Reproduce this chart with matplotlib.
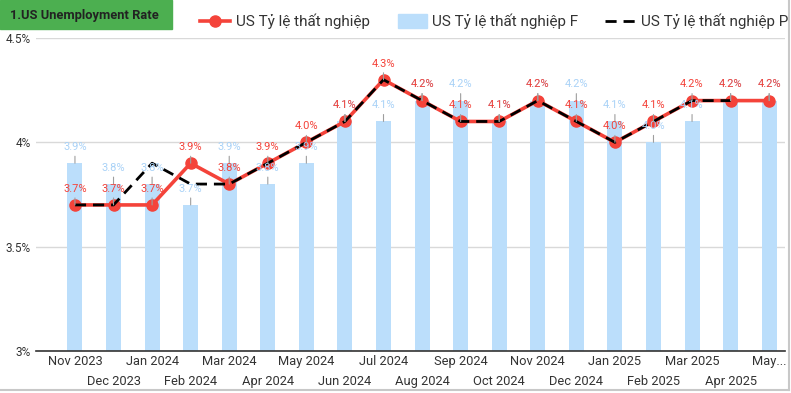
import matplotlib
matplotlib.use("Agg")
import matplotlib.pyplot as plt
import numpy as np
from matplotlib.lines import Line2D
from matplotlib.patches import Rectangle

plt.rcParams['font.family'] = ['Roboto', 'DejaVu Sans']

months = ["Nov 2023", "Dec 2023", "Jan 2024", "Feb 2024", "Mar 2024", "Apr 2024",
          "May 2024", "Jun 2024", "Jul 2024", "Aug 2024", "Sep 2024", "Oct 2024",
          "Nov 2024", "Dec 2024", "Jan 2025", "Feb 2025", "Mar 2025", "Apr 2025", "May..."]
actual = [3.7, 3.7, 3.7, 3.9, 3.8, 3.9, 4.0, 4.1, 4.3, 4.2, 4.1, 4.1, 4.2, 4.1, 4.0, 4.1, 4.2, 4.2, 4.2]
forecast = [3.9, 3.8, 3.8, 3.7, 3.9, 3.8, 3.9, 4.1, 4.1, 4.2, 4.2, 4.1, 4.2, 4.2, 4.1, 4.0, 4.1, 4.2, 4.2]
previous = [3.7, 3.7, 3.9, 3.8, 3.8, 3.9, 4.0, 4.1, 4.3, 4.2, 4.1, 4.1, 4.2, 4.1, 4.0, 4.1, 4.2, 4.2, np.nan]
yticks = [3.0, 3.5, 4.0, 4.5]
ytick_labels = ["3%", "3.5%", "4%", "4.5%"]
title = "1.US Unemployment Rate"
names = ["US Tỷ lệ thất nghiệp", "US Tỷ lệ thất nghiệp F", "US Tỷ lệ thất nghiệp P"]

RED = "#f4433a"
BLUE = "#bbdefb"
BLUE_TXT = "#a9d2f7"
GREEN = "#4caf50"

W, H = 791, 393
fig = plt.figure(figsize=(W / 100, H / 100), dpi=100)

def fx(px):
    return px / W

def fy(py):
    return 1 - py / H

L, R, T, B = 36, 785, 38, 351
ax = fig.add_axes([fx(L), fy(B), fx(R - L), (B - T) / H])
x = np.arange(len(months))

ax.bar(x, forecast, width=0.39, color=BLUE, zorder=2)
ax.plot(x, actual, color=RED, lw=2.6, marker='o', ms=8, zorder=4)
ax.plot(x, previous, color="black", lw=2.0, ls=(0, (4, 2.5)), zorder=5)

ax.set_ylim(3.0, 4.5)
ax.set_xlim(-1.01, 18.41)
ax.set_yticks(yticks)
ax.set_yticklabels(ytick_labels, fontsize=8.5, color="#333333")
ax.yaxis.grid(True, color="#d9d9d9", lw=1, zorder=0)
ax.set_axisbelow(True)
for s in ["top", "right", "left"]:
    ax.spines[s].set_visible(False)
ax.spines["bottom"].set_color("#333333")
ax.spines["bottom"].set_linewidth(1.2)
ax.spines["bottom"].set_zorder(6)
ax.tick_params(axis='y', length=0, pad=4)
ax.set_xticks(x[0::2])
ax.set_xticklabels(months[0::2], fontsize=9.3, color="#333333")
ax.set_xticks(x[1::2], minor=True)
ax.set_xticklabels(months[1::2], minor=True, fontsize=9.3, color="#333333")
ax.tick_params(axis='x', which='major', length=0, pad=3)
ax.tick_params(axis='x', which='minor', length=0, pad=17)

def label(i, v, color):
    ax.annotate(f"{v:.1f}%", xy=(i, v), xytext=(0, 8), textcoords="offset points",
                ha="center", va="bottom", fontsize=8, color=color, zorder=7,
                arrowprops=dict(arrowstyle='-', color="#9e9e9e", lw=0.8,
                                shrinkA=1, shrinkB=0), annotation_clip=False)

for i, v in enumerate(forecast):
    label(i, v, BLUE_TXT)
for i, v in enumerate(actual):
    label(i, v, RED)

# title box
fig.add_artist(Rectangle((0, fy(29)), fx(172), 29 / H, transform=fig.transFigure,
                         color=GREEN, zorder=1))
fig.text(fx(10), fy(15), title, fontsize=9.3, fontweight="bold", color="#222222",
         va="center", ha="left")

# legend
ly = fy(21)
fig.add_artist(Line2D([fx(200), fx(230)], [ly, ly], transform=fig.transFigure,
                      color=RED, lw=2.6, marker=None))
fig.add_artist(Line2D([fx(215)], [ly], transform=fig.transFigure, color=RED,
                      marker='o', ms=8, lw=0))
fig.text(fx(236), ly, names[0], fontsize=11, color="#333333", va="center", ha="left")
fig.add_artist(Rectangle((fx(398), fy(28)), fx(29), 14 / H, transform=fig.transFigure,
                         color=BLUE))
fig.text(fx(432), ly, names[1], fontsize=11, color="#333333", va="center", ha="left")
fig.add_artist(Line2D([fx(605), fx(635)], [ly, ly], transform=fig.transFigure,
                      color="black", lw=2.0, ls=(0, (4, 2.5))))
fig.text(fx(641), ly, names[2], fontsize=11, color="#333333", va="center", ha="left")

# card border / shadow
fig.add_artist(Line2D([0, fx(789)], [fy(390), fy(390)], transform=fig.transFigure,
                      color="#c8c8c8", lw=1.5))
fig.add_artist(Line2D([fx(789), fx(789)], [fy(0), fy(390)], transform=fig.transFigure,
                      color="#c8c8c8", lw=1.5))

fig.savefig("out.png", dpi=100)
